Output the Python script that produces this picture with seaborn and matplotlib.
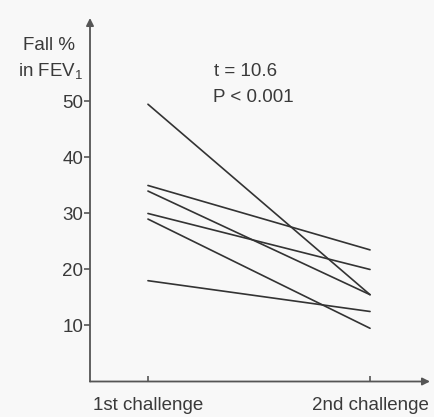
import matplotlib
matplotlib.use("Agg")
import matplotlib.pyplot as plt
import seaborn as sns
import pandas as pd

# Fall in FEV1 (%) for each subject at the two challenges
subjects = ["S1", "S2", "S3", "S4", "S5", "S6"]
first_challenge = [49.5, 35.0, 34.0, 30.0, 29.0, 18.0]
second_challenge = [15.5, 23.5, 15.5, 20.0, 9.5, 12.5]
challenge_labels = ["1st challenge", "2nd challenge"]
y_ticks = [10, 20, 30, 40, 50]

rows = []
for s, a, b in zip(subjects, first_challenge, second_challenge):
    rows.append({"subject": s, "challenge": 0, "fall": a})
    rows.append({"subject": s, "challenge": 1, "fall": b})
df = pd.DataFrame(rows)

sns.set_theme(style="white")
plt.rcParams["font.family"] = ["Liberation Sans", "DejaVu Sans"]
plt.rcParams["mathtext.fontset"] = "custom"
plt.rcParams["mathtext.rm"] = "Liberation Sans"

bg = "#f8f8f8"
ink = "#3a3a3a"
W, H = 434, 417
fig = plt.figure(figsize=(W / 100, H / 100), dpi=100, facecolor=bg)
ax = fig.add_axes([90 / W, 1 - 381.5 / H, 340 / W, 363.5 / H])
ax.set_facecolor(bg)

sns.lineplot(data=df, x="challenge", y="fall", units="subject", estimator=None,
             color="#333333", linewidth=1.2, ax=ax, legend=False)

ax.set_xlim(-0.261, 1.27)
ax.set_ylim(0, 64.9)

for sp in ax.spines.values():
    sp.set_visible(False)

axis_kw = dict(arrowstyle="-|>", color="#555555", lw=1.3, mutation_scale=11,
               shrinkA=0, shrinkB=0)
ax.annotate("", xy=(0, 1), xytext=(0, 0), xycoords="axes fraction",
            textcoords="axes fraction", arrowprops=axis_kw, annotation_clip=False)
ax.annotate("", xy=(1, 0), xytext=(0, 0), xycoords="axes fraction",
            textcoords="axes fraction", arrowprops=axis_kw, annotation_clip=False)

ax.set_yticks(y_ticks)
ax.set_yticklabels([str(v) for v in y_ticks])
ax.set_xticks([0, 1])
ax.set_xticklabels(challenge_labels)
ax.tick_params(axis="y", left=True, direction="out", length=4, width=1.2,
               color="#555555", pad=1, labelsize=13.5, labelcolor=ink)
ax.tick_params(axis="x", bottom=True, direction="in", length=4, width=1.2,
               color="#555555", pad=11, labelsize=13.5, labelcolor=ink)
ax.set_xlabel("")
ax.set_ylabel("")

fig.text(75 / W, 1 - 45 / H, "Fall %", ha="right", va="center",
         fontsize=13.5, color=ink)
fig.text(83 / W, 1 - 72 / H, r"in FEV$_\mathregular{1}$", ha="right", va="center",
         fontsize=13.5, color=ink)
fig.text(214 / W, 1 - 71 / H, "t = 10.6", ha="left", va="center",
         fontsize=13.5, color=ink)
fig.text(213 / W, 1 - 97 / H, "P < 0.001", ha="left", va="center",
         fontsize=13.5, color=ink)

fig.savefig("out.png", dpi=100, facecolor=bg)
